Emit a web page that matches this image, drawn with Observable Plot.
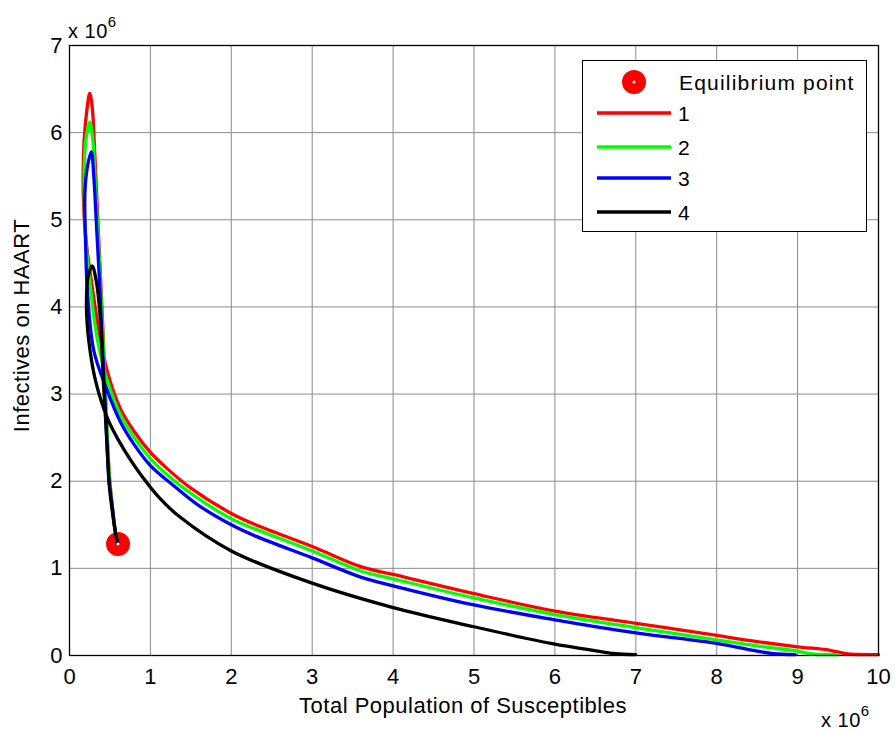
<!DOCTYPE html>
<html>
<head>
<meta charset="utf-8">
<script src="https://cdn.jsdelivr.net/npm/d3@7"></script>
<script src="https://cdn.jsdelivr.net/npm/@observablehq/plot@0.6"></script>
<style>
  body { margin: 0; background: white; font-family: "Liberation Sans", Arial, sans-serif; }
  #wrap { position: relative; width: 895px; height: 730px; }
  .exp { position: absolute; font-size: 20px; color: #000; white-space: nowrap; letter-spacing: 0.5px; line-height: 1; }
  .exp sup { font-size: 15px; position: relative; top: -3px; }
  #legend { position: absolute; left: 582px; top: 60px; width: 285px; height: 172px; border: 1px solid #000; background: #fff; box-sizing: border-box; }
  #legend .t { position: absolute; font-size: 21px; letter-spacing: 1.2px; line-height: 1; }
</style>
</head>
<body>
<div id="wrap"></div>
<script>
// values in millions (x 10^6)
const xTicks = [0, 1, 2, 3, 4, 5, 6, 7, 8, 9, 10];
const yTicks = [0, 1, 2, 3, 4, 5, 6, 7];
const seriesNames = ["1", "2", "3", "4"];
const seriesColors = ["#ff0000", "#00ff00", "#0000ff", "#000000"];
const equilibriumX = [0.6];
const equilibriumY = [1.28];

const series1 = [[10,0.01],[9.6,0.02],[9.4,0.06],[9,0.1],[8.5,0.16],[8,0.23],[7,0.37],[6,0.51],[5,0.71],[4,0.93],[3.6,1.02],[3,1.25],[2.3,1.5],[2,1.63],[1.5,1.92],[1.2,2.15],[1.0,2.33],[0.8,2.57],[0.63,2.83],[0.47,3.25],[0.36,3.75],[0.27,4.3],[0.2,4.8],[0.17,5.3],[0.18,5.9],[0.22,6.3],[0.25,6.45],[0.28,6.3],[0.31,5.8],[0.34,5.2],[0.37,4.6],[0.41,3.8],[0.44,3.1],[0.49,2.1],[0.53,1.7],[0.57,1.4],[0.6,1.28]];
const series2 = [[9.5,0.01],[9.15,0.02],[9,0.05],[8.5,0.11],[8,0.18],[7,0.32],[6,0.47],[5,0.66],[4,0.88],[3.6,0.97],[3,1.2],[2.3,1.45],[2,1.57],[1.5,1.86],[1.2,2.08],[1.0,2.26],[0.8,2.5],[0.63,2.76],[0.46,3.18],[0.34,3.65],[0.25,4.3],[0.2,4.8],[0.18,5.4],[0.2,5.9],[0.25,6.12],[0.29,5.9],[0.32,5.4],[0.36,4.7],[0.4,3.9],[0.44,3.1],[0.49,2.1],[0.53,1.7],[0.57,1.4],[0.6,1.28]];
const series3 = [[8.97,0.01],[8.7,0.02],[8.5,0.05],[8,0.14],[7,0.26],[6,0.41],[5,0.58],[4,0.8],[3.6,0.9],[3,1.12],[2.3,1.37],[2,1.5],[1.6,1.72],[1.3,1.94],[1.0,2.18],[0.8,2.42],[0.63,2.68],[0.45,3.08],[0.3,3.5],[0.22,4.2],[0.2,4.7],[0.19,5.3],[0.22,5.6],[0.27,5.78],[0.3,5.5],[0.33,5.0],[0.37,4.3],[0.4,3.7],[0.43,3.1],[0.49,2.0],[0.53,1.7],[0.57,1.4],[0.6,1.28]];
const series4 = [[7,0.01],[6.75,0.02],[6.6,0.04],[6.4,0.07],[6,0.13],[5,0.33],[4,0.55],[3,0.83],[2,1.2],[1.35,1.6],[1.1,1.82],[0.9,2.05],[0.75,2.25],[0.6,2.48],[0.47,2.72],[0.32,3.16],[0.24,3.6],[0.21,4.0],[0.23,4.35],[0.28,4.47],[0.33,4.3],[0.38,3.88],[0.42,3.12],[0.46,2.5],[0.49,1.97],[0.53,1.65],[0.57,1.4],[0.6,1.28]];

const allSeries = [series1, series2, series3, series4];
const lineMarks = allSeries.map((s, i) =>
  Plot.line(s.map(([x, y]) => ({x, y})), {x: "x", y: "y", stroke: seriesColors[i], strokeWidth: 3.3, curve: "catmull-rom"})
);
const eq = equilibriumX.map((x, i) => ({x, y: equilibriumY[i]}));

const chart = Plot.plot({
  width: 895,
  height: 730,
  marginTop: 45,
  marginRight: 17,
  marginBottom: 75,
  marginLeft: 69,
  style: {fontFamily: "'Liberation Sans', Arial, sans-serif", fontSize: "21px", background: "white", color: "black"},
  x: {domain: [0, 10], ticks: xTicks},
  y: {domain: [0, 7], ticks: yTicks},
  marks: [
    Plot.gridX(xTicks, {stroke: "#8c8c8c", strokeOpacity: 1, strokeWidth: 1}),
    Plot.gridY(yTicks, {stroke: "#8c8c8c", strokeOpacity: 1, strokeWidth: 1}),
    Plot.axisX(xTicks, {tickSize: 0, tickPadding: 13, label: null, fontSize: 22, tickFormat: d => String(d)}),
    Plot.axisY(yTicks, {tickSize: 0, tickPadding: 7, label: null, fontSize: 22, tickFormat: d => String(d)}),
    Plot.dot(eq, {x: "x", y: "y", r: 12, fill: "#ff0000", stroke: "none"}),
    ...lineMarks,
    Plot.dot(eq, {x: "x", y: "y", r: 1.5, fill: "white", stroke: "none"}),
    Plot.frame({stroke: "black", strokeWidth: 1.3}),
    Plot.text(["Total Population of Susceptibles"], {frameAnchor: "bottom", dy: 50, dx: -11, lineAnchor: "middle", textAnchor: "middle", fontSize: 22, text: d => d}),
    Plot.text(["Infectives on HAART"], {frameAnchor: "left", rotate: -90, dx: -48, dy: -25, lineAnchor: "middle", textAnchor: "middle", fontSize: 22, text: d => d})
  ]
});

const wrap = document.getElementById("wrap");
wrap.appendChild(chart);
chart.querySelectorAll("text").forEach(t => { if (t.textContent.length > 5) t.style.letterSpacing = "0.5px"; });

// exponent labels
const e1 = document.createElement("div");
e1.className = "exp"; e1.style.left = "68px"; e1.style.top = "17px";
e1.innerHTML = "x 10<sup>6</sup>";
wrap.appendChild(e1);
const e2 = document.createElement("div");
e2.className = "exp"; e2.style.left = "821px"; e2.style.top = "706px";
e2.innerHTML = "x 10<sup>6</sup>";
wrap.appendChild(e2);

// legend
const lg = document.createElement("div");
lg.id = "legend";
const ns = "http://www.w3.org/2000/svg";
const lsvg = document.createElementNS(ns, "svg");
lsvg.setAttribute("width", 283); lsvg.setAttribute("height", 170);
lsvg.style.position = "absolute"; lsvg.style.left = "0"; lsvg.style.top = "0";
const c = document.createElementNS(ns, "circle");
c.setAttribute("cx", 51); c.setAttribute("cy", 21); c.setAttribute("r", 12); c.setAttribute("fill", "#ff0000");
lsvg.appendChild(c);
const c2 = document.createElementNS(ns, "circle");
c2.setAttribute("cx", 51); c2.setAttribute("cy", 21); c2.setAttribute("r", 1.5); c2.setAttribute("fill", "#fff");
lsvg.appendChild(c2);
const rowY = [52, 86, 117, 151];
seriesNames.forEach((n, i) => {
  const l = document.createElementNS(ns, "line");
  l.setAttribute("x1", 14); l.setAttribute("x2", 88);
  l.setAttribute("y1", rowY[i]); l.setAttribute("y2", rowY[i]);
  l.setAttribute("stroke", seriesColors[i]); l.setAttribute("stroke-width", 3.3);
  lsvg.appendChild(l);
});
lg.appendChild(lsvg);
const t0 = document.createElement("div");
t0.className = "t"; t0.style.left = "96px"; t0.style.top = "11px"; t0.textContent = "Equilibrium point";
lg.appendChild(t0);
seriesNames.forEach((n, i) => {
  const t = document.createElement("div");
  t.className = "t"; t.style.left = "95px"; t.style.top = (rowY[i] - 10) + "px"; t.textContent = n;
  lg.appendChild(t);
});
wrap.appendChild(lg);
</script>
</body>
</html>
